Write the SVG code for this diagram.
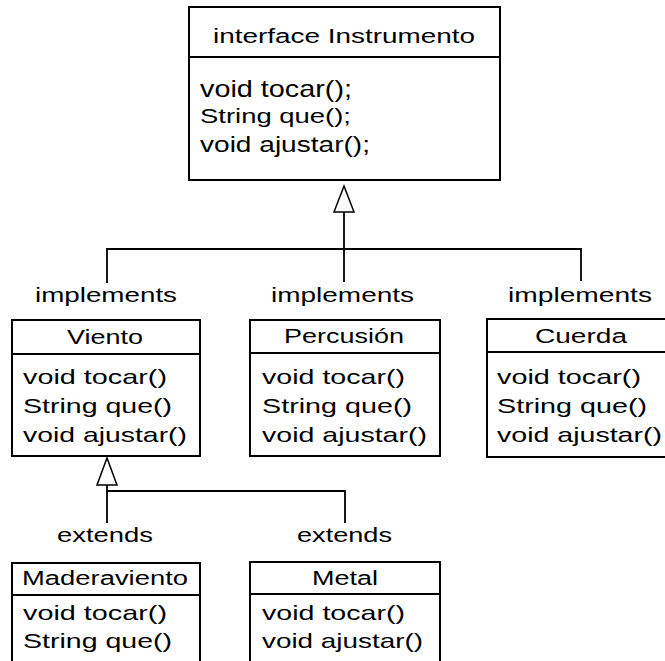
<svg xmlns="http://www.w3.org/2000/svg" width="665" height="661" viewBox="0 0 665 661">
<style>
.box{fill:#fff;stroke:#000;stroke-width:2}
.div{stroke:#000;stroke-width:2}
.t{font-family:"Liberation Sans",Arial,sans-serif;font-size:20px;fill:#000}
.b{font-family:"Liberation Sans",Arial,sans-serif;font-size:21px;fill:#000}
.ln{fill:none;stroke:#000;stroke-width:1.8}
.tri{fill:#fff;stroke:#000;stroke-width:1.5}
</style>
<rect width="665" height="661" fill="#fff"/>
<g id="connectors">
  <path class="ln" d="M344 212 V282 M107 283 V249 H581 V281"/>
  <path class="tri" d="M344 186 L354 212 L334 212 Z"/>
  <path class="ln" d="M107 485 V523 M107 491 H345 V523"/>
  <path class="tri" d="M107 458 L117 485 L97 485 Z"/>
  <text class="t" x="35" y="302" textLength="142" lengthAdjust="spacingAndGlyphs">implements</text>
  <text class="t" x="271" y="302" textLength="143" lengthAdjust="spacingAndGlyphs">implements</text>
  <text class="t" x="508" y="302" textLength="144" lengthAdjust="spacingAndGlyphs">implements</text>
  <text class="t" x="57" y="542" textLength="96" lengthAdjust="spacingAndGlyphs">extends</text>
  <text class="t" x="297" y="542" textLength="95" lengthAdjust="spacingAndGlyphs">extends</text>
</g>
<g id="instrumento">
  <rect class="box" x="189" y="7" width="311" height="173"/>
  <line class="div" x1="189" y1="57" x2="500" y2="57"/>
  <text class="t" x="213" y="43" textLength="262" lengthAdjust="spacingAndGlyphs">interface Instrumento</text>
  <text class="b" x="200" y="97" style="font-size:24px" textLength="152" lengthAdjust="spacingAndGlyphs">void tocar();</text>
  <text class="b" x="200" y="123" style="font-size:21px" textLength="151" lengthAdjust="spacingAndGlyphs">String que();</text>
  <text class="b" x="200" y="152" style="font-size:22.5px" textLength="170" lengthAdjust="spacingAndGlyphs">void ajustar();</text>
</g>
<g id="viento">
  <rect class="box" x="12" y="320" width="188" height="136"/>
  <line class="div" x1="12" y1="354" x2="200" y2="354"/>
  <text class="t" x="67" y="344" textLength="76" lengthAdjust="spacingAndGlyphs">Viento</text>
  <text class="b" x="23" y="384" textLength="144" lengthAdjust="spacingAndGlyphs">void tocar()</text>
  <text class="b" x="23" y="413" textLength="149" lengthAdjust="spacingAndGlyphs">String que()</text>
  <text class="b" x="23" y="442" textLength="164" lengthAdjust="spacingAndGlyphs">void ajustar()</text>
</g>
<g id="percusion">
  <rect class="box" x="250" y="320" width="190" height="136"/>
  <line class="div" x1="250" y1="353" x2="440" y2="353"/>
  <text class="t" x="284" y="343" textLength="120" lengthAdjust="spacingAndGlyphs">Percusión</text>
  <text class="b" x="262" y="384" textLength="143" lengthAdjust="spacingAndGlyphs">void tocar()</text>
  <text class="b" x="262" y="413" textLength="150" lengthAdjust="spacingAndGlyphs">String que()</text>
  <text class="b" x="262" y="442" textLength="165" lengthAdjust="spacingAndGlyphs">void ajustar()</text>
</g>
<g id="cuerda">
  <rect class="box" x="487" y="319" width="190" height="138"/>
  <line class="div" x1="487" y1="352" x2="677" y2="352"/>
  <text class="t" x="535" y="343" textLength="92" lengthAdjust="spacingAndGlyphs">Cuerda</text>
  <text class="b" x="497" y="384" textLength="144" lengthAdjust="spacingAndGlyphs">void tocar()</text>
  <text class="b" x="497" y="413" textLength="150" lengthAdjust="spacingAndGlyphs">String que()</text>
  <text class="b" x="497" y="442" textLength="165" lengthAdjust="spacingAndGlyphs">void ajustar()</text>
</g>
<g id="maderaviento">
  <path class="box" d="M12 670 V563 H200 V670"/>
  <line class="div" x1="12" y1="595" x2="200" y2="595"/>
  <text class="t" x="22" y="585" textLength="166" lengthAdjust="spacingAndGlyphs">Maderaviento</text>
  <text class="b" x="23" y="620" textLength="144" lengthAdjust="spacingAndGlyphs">void tocar()</text>
  <text class="b" x="23" y="648" textLength="149" lengthAdjust="spacingAndGlyphs">String que()</text>
</g>
<g id="metal">
  <path class="box" d="M250 670 V562 H440 V670"/>
  <line class="div" x1="250" y1="594" x2="440" y2="594"/>
  <text class="t" x="312" y="585" textLength="66" lengthAdjust="spacingAndGlyphs">Metal</text>
  <text class="b" x="262" y="620" textLength="143" lengthAdjust="spacingAndGlyphs">void tocar()</text>
  <text class="b" x="262" y="648" textLength="161" lengthAdjust="spacingAndGlyphs">void ajustar()</text>
</g>
</svg>
